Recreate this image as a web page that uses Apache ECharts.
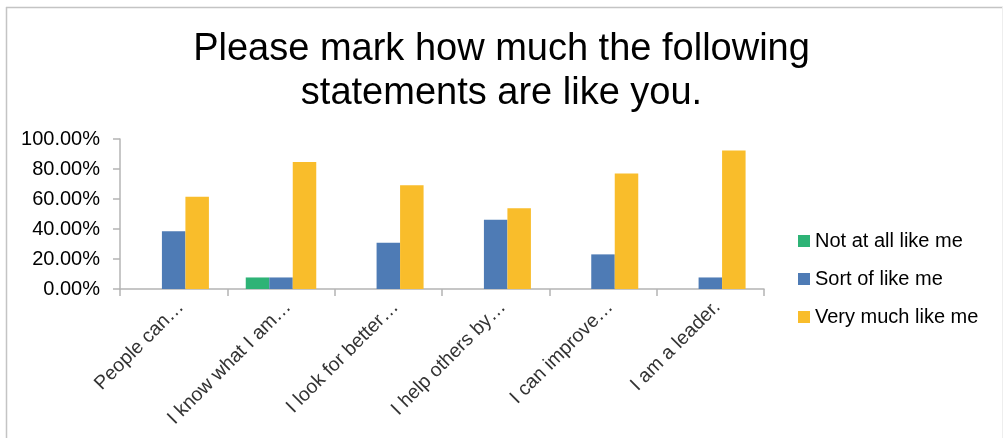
<!DOCTYPE html>
<html>
<head>
<meta charset="utf-8">
<script src="https://cdn.jsdelivr.net/npm/echarts@6/dist/echarts.min.js"></script>
<style>
html,body{margin:0;padding:0;background:#fff;}
#chart{width:1003px;height:438px;}
</style>
</head>
<body>
<div id="chart"></div>
<script>
const categories = ["People can…", "I know what I am…", "I look for better…", "I help others by…", "I can improve…", "I am a leader."];
const seriesNames = ["Not at all like me", "Sort of like me", "Very much like me"];
const notAtAll = [0, 7.69, 0, 0, 0, 0];
const sortOf = [38.46, 7.69, 30.77, 46.15, 23.08, 7.69];
const veryMuch = [61.54, 84.62, 69.23, 53.85, 76.92, 92.31];
const colors = ["#2EB376", "#4E7BB5", "#F9BD2B"];
const titleText = "Please mark how much the following\nstatements are like you.";

const chart = echarts.init(document.getElementById('chart'), null, {renderer: 'canvas'});
const font = "'Liberation Sans', Arial, sans-serif";
const mk = (name, data, color) => ({
  name, type: 'bar', data, barWidth: 23.5, barGap: '0%',
  itemStyle: {color}, emphasis: {disabled: true}
});
chart.setOption({
  animation: false,
  backgroundColor: '#fff',
  title: {
    text: titleText, left: 'center', top: 23,
    textStyle: {fontFamily: font, fontSize: 38, fontWeight: 'normal', color: '#000', lineHeight: 44}
  },
  legend: {
    orient: 'vertical', left: 793, top: 226, itemWidth: 12, itemHeight: 12, itemGap: 18,
    icon: 'rect',
    textStyle: {fontFamily: font, fontSize: 20, color: '#000'},
    data: seriesNames
  },
  grid: {left: 120, right: 239, top: 139, bottom: 149, containLabel: false},
  xAxis: {
    type: 'category', data: categories,
    axisLine: {lineStyle: {color: '#B4B4B4', width: 1.5}},
    axisTick: {show: true, length: 7, lineStyle: {color: '#B4B4B4', width: 1.5}},
    axisLabel: {rotate: 45, fontFamily: font, fontSize: 19.5, color: '#333', margin: 8, interval: 0,
      verticalAlign: 'top'}
  },
  yAxis: {
    type: 'value', min: 0, max: 100, interval: 20,
    axisLine: {show: true, lineStyle: {color: '#B4B4B4', width: 1.5}},
    axisTick: {show: true, length: 7, lineStyle: {color: '#B4B4B4', width: 1.5}},
    splitLine: {show: false},
    axisLabel: {fontFamily: font, fontSize: 20, color: '#000', margin: 20,
      formatter: v => v.toFixed(2) + '%'}
  },
  series: [
    mk(seriesNames[0], notAtAll, colors[0]),
    mk(seriesNames[1], sortOf, colors[1]),
    mk(seriesNames[2], veryMuch, colors[2])
  ],
  graphic: [
    {type: 'line', shape: {x1: 6, y1: 7.5, x2: 1003, y2: 7.5}, style: {stroke: '#C4C4C4', lineWidth: 1.5}},
    {type: 'line', shape: {x1: 6.5, y1: 7, x2: 6.5, y2: 438}, style: {stroke: '#C4C4C4', lineWidth: 1.5}},
    {type: 'line', shape: {x1: 1002.5, y1: 7, x2: 1002.5, y2: 438}, style: {stroke: '#EEEEEE', lineWidth: 1}}
  ]
});
</script>
</body>
</html>
